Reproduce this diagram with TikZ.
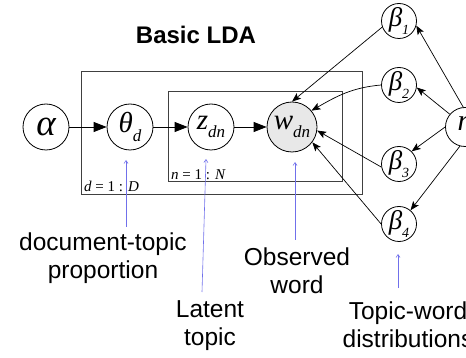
\documentclass[tikz,border=0pt]{standalone}
\usepackage{fontspec}
\setmainfont{Liberation Sans}
\newfontfamily\varfont{Liberation Serif}
\usepackage{xcolor}
\usepackage{tikz}
\usetikzlibrary{positioning, arrows.meta, calc}

\definecolor{ptrblue}{RGB}{112,112,235}
\newcommand{\lowidx}[2][17]{\raisebox{-0.3em}{\fontsize{#1}{#1}\selectfont #2}}

\begin{document}
\begin{tikzpicture}[x=1pt, y=-1pt,
    var/.style={circle, draw, line width=0.8pt, inner sep=0pt, minimum size=46pt, font=\fontsize{29}{33}\selectfont\varfont\itshape},
    obs/.style={var, fill=gray!18, minimum size=50pt},
    topicvar/.style={circle, draw, line width=0.8pt, inner sep=0pt, minimum size=35pt, font=\fontsize{27}{31}\selectfont\varfont\itshape},
    plate/.style={draw=black!75, line width=1pt},
    platelabel/.style={inner sep=0pt, font=\fontsize{15}{18}\selectfont\varfont},
    label/.style={inner sep=0pt, align=center, font=\fontsize{24.5}{28}\selectfont},
    arrow/.style={-{Triangle[length=13pt, width=10pt]}, line width=0.8pt},
    betaarrow/.style={-{Stealth[length=9pt, width=7pt, inset=2pt]}, line width=0.7pt},
    pointer/.style={-{Straight Barb[length=3pt, width=4pt]}, draw=ptrblue, line width=0.6pt}
]
\useasboundingbox (0,0) rectangle (466,358);
\clip (0,0) rectangle (466,358);

\node[font=\fontsize{24}{28}\selectfont\bfseries] (title) at (196,35) {Basic LDA};

\draw[plate] (81,72) rectangle (362,195);
\draw[plate] (168,92) rectangle (342,182);
\node[platelabel, anchor=south west] (dlab) at (84,192) {\textit{d} = 1 : \textit{D}};
\node[platelabel, anchor=south west] (nlab) at (171,180) {\textit{n} = 1 : \textit{N}};

\node[var, font=\fontsize{37}{40}\selectfont\varfont\itshape] (alpha) at (46,127) {α};
\node[var] (theta) at (130,127) {θ\lowidx{d}};
\node[var] (z) at (211,127) {z\lowidx{dn}};
\node[obs] (w) at (292,127) {w\lowidx{dn}};

\node[topicvar] (b1) at (399,21) {β\lowidx[14]{1}};
\node[topicvar] (b2) at (399,85) {β\lowidx[14]{2}};
\node[topicvar] (b3) at (399,164) {β\lowidx[14]{3}};
\node[topicvar] (b4) at (399,224) {β\lowidx[14]{4}};
\node[topicvar, minimum size=39pt, font=\fontsize{30}{34}\selectfont\varfont\itshape] (eta) at (465,127) {η};

\draw[arrow] (alpha) -- (theta);
\draw[arrow] (theta) -- (z);
\draw[arrow] (z) -- (w);

\draw[betaarrow] (b1.200) -- (w.north);
\draw[betaarrow] (b2.west) to[out=185, in=30] (w.40);
\draw[betaarrow] (b3.190) -- (w.-8);
\draw[betaarrow] (b4.180) -- (w.-37);

\draw[betaarrow] (eta.95) -- (b1.-15);
\draw[betaarrow] (eta.140) -- (b2.-8);
\draw[betaarrow] (eta.180) -- (b3.45);
\draw[betaarrow] (eta.-105) -- (b4.50);

\node[label, anchor=north] (doc) at (103,233) {document-topic\\proportion};
\node[label, anchor=north] (latent) at (210,300) {Latent\\topic};
\node[label, anchor=north] (observed) at (297,248) {Observed\\word};
\node[label, anchor=north] (topicword) at (408,302) {Topic-word\\distributions};

\coordinate (thetaptr) at (126,160);
\coordinate (zptr) at (206,159);
\coordinate (wptr) at (295,162);
\coordinate (bptr) at (398,254);

\draw[pointer] ([shift={(23pt,6pt)}]doc.north) -- (thetaptr);
\draw[pointer] ([shift={(-8pt,8pt)}]latent.north) -- (zptr);
\draw[pointer] ([shift={(-2pt,8pt)}]observed.north) -- (wptr);
\draw[pointer] ([shift={(-10pt,14pt)}]topicword.north) -- (bptr);

\end{tikzpicture}
\end{document}
